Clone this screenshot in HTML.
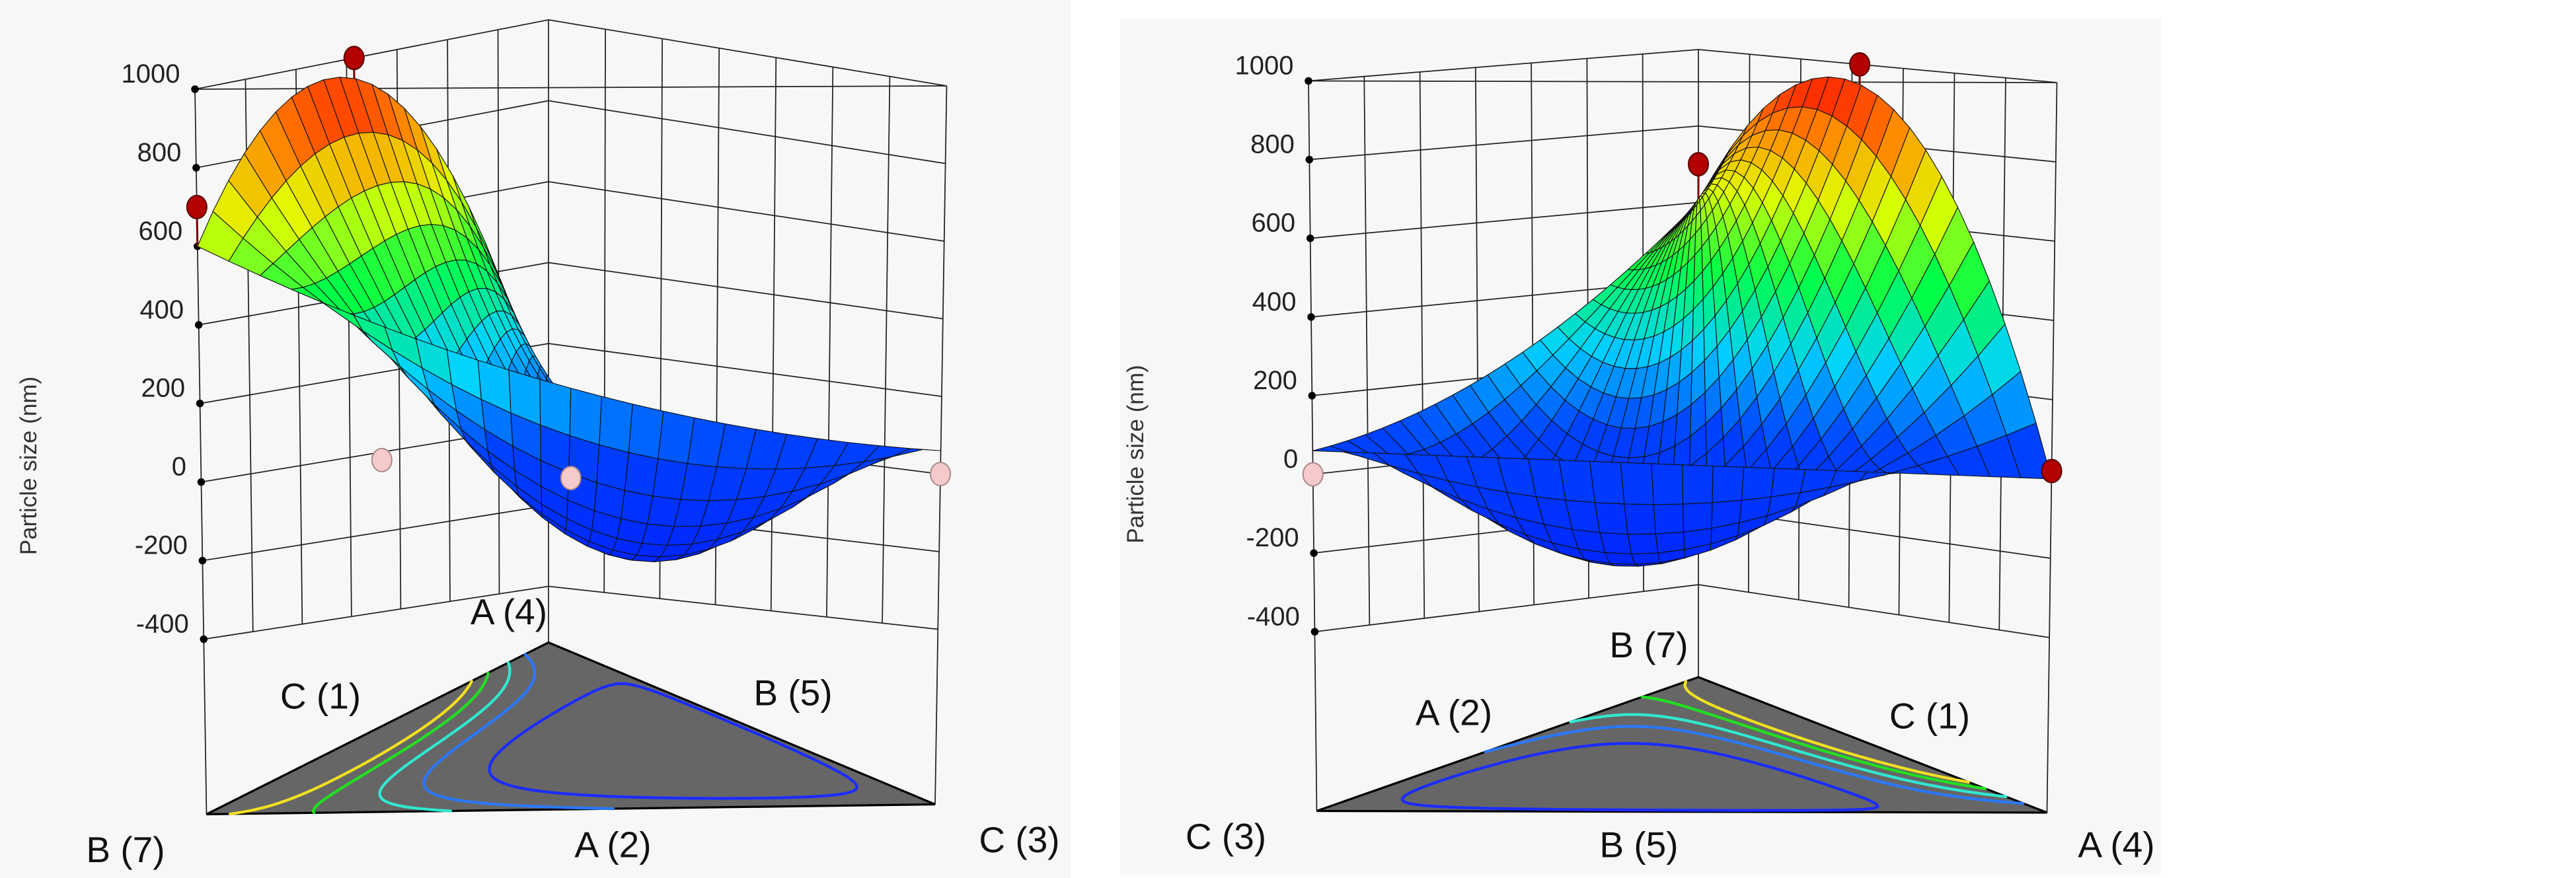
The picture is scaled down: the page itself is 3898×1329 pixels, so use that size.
<!DOCTYPE html>
<html><head><meta charset="utf-8">
<style>
html,body{margin:0;padding:0;background:#fff;}
svg{display:block;}
text{font-family:"Liberation Sans",sans-serif;}
</style></head>
<body>
<svg id="chart" width="3898" height="1329" viewBox="0 0 1559.2 531.6" preserveAspectRatio="none" xmlns="http://www.w3.org/2000/svg">
  <rect x="0" y="0" width="1559.2" height="531.6" fill="#ffffff"/>
  <rect x="0" y="0" width="648" height="531.6" fill="#f7f7f7"/>
  <rect x="678" y="11" width="630" height="519" fill="#f7f7f7"/>
  <g id="p1"></g>
  <g id="p2"></g>
  <g font-size="22" fill="#111">
    <text x="22" y="282" font-size="14" fill="#333" text-anchor="middle" transform="rotate(-90 22 282)">Particle size (nm)</text>
    <text x="308" y="378" text-anchor="middle">A (4)</text>
    <text x="194" y="429" text-anchor="middle">C (1)</text>
    <text x="480" y="427" text-anchor="middle">B (5)</text>
    <text x="76" y="522" text-anchor="middle">B (7)</text>
    <text x="371" y="519" text-anchor="middle">A (2)</text>
    <text x="617" y="516" text-anchor="middle">C (3)</text>
  </g>
  <g font-size="22" fill="#111">
    <text x="692" y="275" font-size="14" fill="#333" text-anchor="middle" transform="rotate(-90 692 275)">Particle size (nm)</text>
    <text x="998" y="398" text-anchor="middle">B (7)</text>
    <text x="880" y="439" text-anchor="middle">A (2)</text>
    <text x="1168" y="441" text-anchor="middle">C (1)</text>
    <text x="742" y="514" text-anchor="middle">C (3)</text>
    <text x="992" y="519" text-anchor="middle">B (5)</text>
    <text x="1281" y="519" text-anchor="middle">A (4)</text>
  </g>
</svg>
<script>
// ---- model / data ----
const linearCoef = [0, 600, 60];        // A, B, C
const pairCoef = [2500, 0, -400];       // AB, AC, BC
const tripleCoef = [-17000];            // ABC
const zTicks = [1000, 800, 600, 400, 200, 0, -200, -400];
const contourLevels = [0, 200, 330, 470, 570];
const designA = [0, 0.45, 0, 1, 0.52, 0];
const designB = [1, 0.55, 0, 0, 0.48, 0.5];
const designC = [0, 0, 1, 0, 0, 0.5];
const designZ = [700, 1000, 0, 20, -20, 0];

function model(a,b,c){
  return linearCoef[0]*a+linearCoef[1]*b+linearCoef[2]*c+pairCoef[0]*a*b+pairCoef[1]*a*c+pairCoef[2]*b*c+tripleCoef[0]*a*b*c;
}
const contourColors = ['#1a2cff','#2a78ff','#30e8d0','#20e020','#f0e020'];
const stops=[[-300,[0,32,255]],[60,[0,64,255]],[260,[0,210,255]],[450,[0,255,70]],[650,[225,255,0]],[810,[255,140,0]],[950,[255,20,0]]];
function colorOf(z){
  if(z<=stops[0][0]) return 'rgb('+stops[0][1].join(',')+')';
  for(let i=1;i<stops.length;i++){ if(z<=stops[i][0]){const t=(z-stops[i-1][0])/(stops[i][0]-stops[i-1][0]);const c=stops[i-1][1].map((v,k)=>Math.round(v+(stops[i][1][k]-v)*t));return 'rgb('+c.join(',')+')';}}
  return 'rgb('+stops[stops.length-1][1].join(',')+')';
}
const NS='http://www.w3.org/2000/svg';
function mk(tag,attrs,parent){const e=document.createElementNS(NS,tag);for(const k in attrs)e.setAttribute(k,attrs[k]);parent.appendChild(e);return e;}

const panels=[
 {id:'p1', map:['B','A','C'],
  V:[{x:118,xf:125,y:54,k:(387-54)/1400,fy:493},{x:332,xf:332,y:12,k:(355-12)/1400,fy:389},{x:573,xf:566,y:52,k:(381-52)/1400,fy:487}]},
 {id:'p2', map:['C','B','A'],
  V:[{x:792,xf:797,y:49,k:(382.5-49)/1400,fy:491},{x:1028,xf:1028,y:30,k:(354-30)/1400,fy:410},{x:1245,xf:1239,y:50,k:(386-50)/1400,fy:492}]}
];

panels.forEach(P=>{
  const g=document.getElementById(P.id);
  const V=P.V;
  const zFloor=[0,1,2].map(i=>1000-(V[i].fy-V[i].y)/V[i].k);
  function vx(i,z){const t=(1000-z)/(1000-zFloor[i]);return V[i].x+(V[i].xf-V[i].x)*t;}
  function vy(i,z){return V[i].y+(1000-z)*V[i].k;}
  function proj(w,z){let x=0,y=0;for(let i=0;i<3;i++){x+=w[i]*vx(i,z);y+=w[i]*vy(i,z);}return [x,y];}
  function floorPt(w){let x=0,y=0;for(let i=0;i<3;i++){x+=w[i]*V[i].xf;y+=w[i]*V[i].fy;}return [x,y];}
  function comps(w){const o={};o[P.map[0]]=w[0];o[P.map[1]]=w[1];o[P.map[2]]=w[2];return o;}
  function val(w){const c=comps(w);return model(c.A,c.B,c.C);}
  function toW(a,b,c){const o={A:a,B:b,C:c};return [o[P.map[0]],o[P.map[1]],o[P.map[2]]];}

  // walls
  const walls=mk('g',{stroke:'#222','stroke-width':0.7,fill:'none'},g);
  
  
  [[0,1],[1,2]].forEach(([a,b])=>{
    zTicks.forEach(z=>{
      const l=mk('line',{x1:vx(a,z),y1:vy(a,z),x2:vx(b,z),y2:vy(b,z)},walls);
      
      
    });
    for(let s=1;s<7;s++){const t=s/7;
      const l=mk('line',{x1:vx(a,1000)*(1-t)+vx(b,1000)*t,y1:vy(a,1000)*(1-t)+vy(b,1000)*t,x2:vx(a,-400)*(1-t)+vx(b,-400)*t,y2:vy(a,-400)*(1-t)+vy(b,-400)*t},walls);
      
      
    }
  });
  const topLine=mk('line',{x1:vx(0,1000),y1:vy(0,1000),x2:vx(2,1000),y2:vy(2,1000)},walls);
  
  
  for(let i=0;i<3;i++){
    const l=mk('line',{x1:V[i].x,y1:V[i].y,x2:V[i].xf,y2:V[i].fy},walls);
    
    
  }
  // ticks
  zTicks.forEach(z=>{
    const d=mk('circle',{cx:vx(0,z),cy:vy(0,z),r:2.3,fill:'#000'},g);
    
    
    const t=mk('text',{x:vx(0,z)-9,y:vy(0,z)-4,'font-size':16,'text-anchor':'end',fill:'#222'},g);
    t.textContent=z;
    
    
  });

  // floor triangle + contours
  const fp=[0,1,2].map(i=>[V[i].xf,V[i].fy]);
  const tri=mk('polygon',{points:fp.map(p=>p.join(',')).join(' '),fill:'#666',stroke:'#000','stroke-width':1.3},g);
  
  
  const M=70;
  const segs=contourLevels.map(()=>[]);
  function node(i,j){const wR=i/M,wK=j/M;return [1-wR-wK,wK,wR];}
  function proc(ws){const vs=ws.map(val);
    contourLevels.forEach((lv,li)=>{const pts=[];
      for(let e=0;e<3;e++){const a=e,b=(e+1)%3;const va=vs[a]-lv,vb=vs[b]-lv;
        if((va<0)!==(vb<0)){const t=va/(va-vb);pts.push(ws[a].map((v,k)=>v+(ws[b][k]-v)*t));}}
      if(pts.length===2){const p1=floorPt(pts[0]),p2=floorPt(pts[1]);segs[li].push('M'+p1[0].toFixed(2)+' '+p1[1].toFixed(2)+'L'+p2[0].toFixed(2)+' '+p2[1].toFixed(2));}
    });}
  for(let j=0;j<M;j++)for(let i=0;i<M-j;i++){
    proc([node(i,j),node(i+1,j),node(i,j+1)]);
    if(i+j+2<=M) proc([node(i+1,j),node(i+1,j+1),node(i,j+1)]);
  }
  segs.forEach((s,li)=>{const p=mk('path',{d:s.join(''),stroke:contourColors[li],'stroke-width':1.7,fill:'none','stroke-linecap':'round'},g);
    
    });

  // surface + design points in depth order
  const NU=24,NV=22;
  function W(u,v){return [(1-v)*(1-u),v,(1-v)*u];}
  const surf=mk('g',{stroke:'#111','stroke-width':0.45,'stroke-linejoin':'round'},g);
  
  
  const pts3=designZ.map((z,n)=>({n:n,w:toW(designA[n],designB[n],designC[n]),z:z}));
  function drawPoint(d){
    const zs=val(d.w);
    const above=d.z>=zs;
    const p=proj(d.w,d.z);
    if(above){const s=proj(d.w,zs);
      const l=mk('line',{x1:p[0],y1:p[1],x2:s[0],y2:s[1],stroke:'#700','stroke-width':1.2},surf);
      
      }
    const c=mk('ellipse',{cx:p[0],cy:p[1],rx:6,ry:7,fill:above?'#b30000':'#f6caca',stroke:above?'#500':'#a88','stroke-width':0.8},surf);
    
    
  }
  for(let j=NV-1;j>=0;j--){
    pts3.filter(d=>!d.done && d.w[1]>=(j+1)/NV-1e-9).forEach(d=>{d.done=true;drawPoint(d);});
    for(let i=0;i<NU;i++){
      const cs=[[i,j],[i+1,j],[i+1,j+1],[i,j+1]].map(([a,b])=>W(a/NU,b/NV));
      const zs=cs.map(val);
      const pts=cs.map((w,k)=>proj(w,zs[k]));
      const zc=val(W((i+0.5)/NU,(j+0.5)/NV));
      const q=mk('polygon',{points:pts.map(p=>p[0].toFixed(2)+','+p[1].toFixed(2)).join(' '),fill:colorOf(zc)},surf);
      
      
    }
  }
  pts3.filter(d=>!d.done).forEach(d=>{d.done=true;drawPoint(d);});
});
</script>
</body></html>
